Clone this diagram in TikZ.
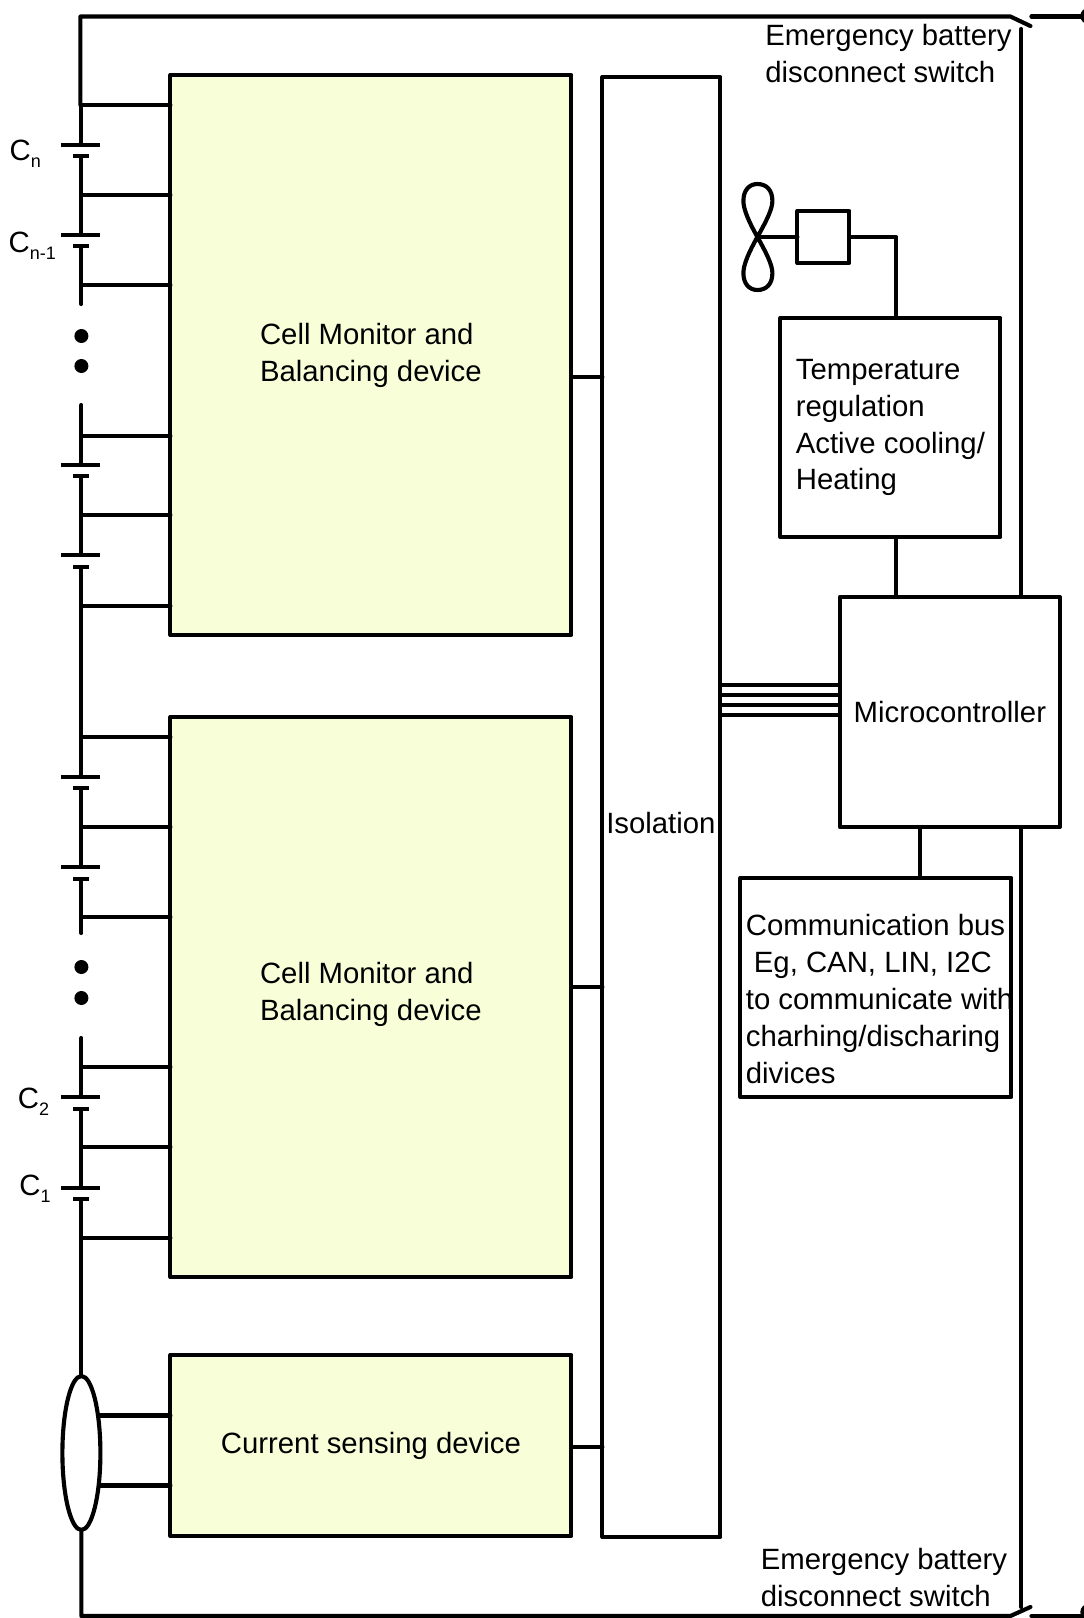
\documentclass[tikz,border=0pt]{standalone}
\usepackage{fontspec}
\setmainfont{Liberation Sans}
\usetikzlibrary{shapes.geometric}
\definecolor{paleyellow}{HTML}{F8FFD8}
\newcommand{\subtxt}[1]{\raisebox{-5.5pt}{\fontsize{13.5}{14}\selectfont #1}}
\tikzset{
  wire/.style={line width=3.1pt,line cap=round,line join=round},
  block/.style={draw,line width=3.1pt,line join=round,inner sep=0pt,outer sep=0pt,align=left,font=\fontsize{22}{27.7}\selectfont},
  devblock/.style={block,fill=paleyellow},
  lbl/.style={inner sep=0pt,outer sep=0pt,anchor=base west,align=left,font=\fontsize{22}{27.7}\selectfont},
  clbl/.style={inner sep=0pt,outer sep=0pt,anchor=base west,font=\fontsize{22}{24}\selectfont},
  dotmark/.style={circle,fill=black,inner sep=0pt,minimum size=10.5pt},
}
\begin{document}
\begin{tikzpicture}[x=0.75pt,y=-0.75pt]
\useasboundingbox (0,0) rectangle (1084,1618);
\begin{scope}[yshift=-0.75pt,xshift=0.3pt]
% blocks
\node[devblock,minimum width=300.75pt,minimum height=420pt] (m1) at (370.5,354) {Cell Monitor and\\Balancing device};
\node[devblock,minimum width=300.75pt,minimum height=420pt] (m2) at (370.5,996) {Cell Monitor and\\Balancing device\\[-19.2pt]\mbox{}};
\node[devblock,minimum width=300.75pt,minimum height=135.75pt] (cs) at (370.5,1444.5) {Current sensing device};
\node[block,minimum width=88.5pt,minimum height=1095pt] (iso) at (661,806) {};
\node[lbl,anchor=center] (isotxt) at (660.5,822) {Isolation};
\node[block,minimum width=165pt,minimum height=172.5pt] (mcu) at (949.5,711) {Microcontroller};
\node[block,minimum width=165pt,minimum height=164.25pt] (temp) at (890,426.5) {Temperature\\regulation\\Active cooling/\\Heating};
\node[block,minimum width=203.25pt,minimum height=164.25pt] (comm) at (875.5,986.5) {};
\node[lbl] (commtxt) at (745.5,1082) {Communication bus\\\hspace*{6pt}Eg, CAN, LIN, I2C\\to communicate with\\charhing/discharing\\divices};
\node[block,minimum width=39pt,minimum height=39pt] (drv) at (823,236) {};
\node[draw,line width=3.1pt,ellipse,inner sep=0pt,outer sep=0pt,minimum width=28.5pt,minimum height=115.5pt] (shunt) at (81,1452) {};

% coordinates
\coordinate (tl) at (80,15.5);
\coordinate (sw1a) at (1010,15.5);
\coordinate (sw1b) at (1030,25);
\coordinate (sw1c) at (1031,15.5);
\coordinate (sw1d) at (1082,15.5);
\coordinate (rtop) at (1021,28);
\coordinate (rbot) at (1021,1606);
\coordinate (bl) at (81,1615);
\coordinate (sw2a) at (1010,1615);
\coordinate (sw2b) at (1030,1606);
\coordinate (sw2c) at (1031,1615);
\coordinate (sw2d) at (1082,1615);
\coordinate (fanc) at (757,236);

% top and bottom rails, switches, main sense line
\draw[wire] (80,104) -- (tl) -- (sw1a) -- (sw1b);
\draw[wire] (sw1c) -- (sw1d);
\draw[wire] (1088,15) circle[radius=6];
\draw[wire] (shunt.south) -- (bl) -- (sw2a) -- (sw2b);
\draw[wire] (sw2c) -- (sw2d);
\draw[wire] (1088,1611) circle[radius=6];
\draw[wire] (rtop) -- (rtop |- mcu.north);
\draw[wire] (rbot |- mcu.south) -- (rbot);

% cell stacks: vertical wire segments
\foreach \ya/\yb in {104/144,155/234,245/303,404/464,475/554,566/776,787/866,878/932,1037/1096,1108/1187}
  \draw[wire] (81,\ya) -- (81,\yb);
\coordinate (st) at (81,1198);
\draw[wire] (st) -- (shunt.north);

% plates
\foreach \yl/\ys in {144/155,234/245,464/475,554/566,776/787,866/878,1096/1108,1187/1198}{
  \draw[wire,line cap=butt] (61,\yl) -- (100,\yl);
  \draw[wire,line cap=butt] (73,\ys) -- (89,\ys);
}
% taps
\foreach \y in {104,194,284,435,514,605}{
  \coordinate (t) at (81,\y);
  \draw[wire] (t) -- (t -| m1.west);
}
\foreach \y in {736,826,916,1066,1146,1237}{
  \coordinate (t) at (81,\y);
  \draw[wire] (t) -- (t -| m2.west);
}
\coordinate (s1) at (99,1414.5);
\coordinate (s2) at (99,1484.5);
\draw[wire] (s1) -- (s1 -| cs.west);
\draw[wire] (s2) -- (s2 -| cs.west);

% dots
\node[dotmark] (d1) at (81,335) {};
\node[dotmark] (d2) at (81,365) {};
\node[dotmark] (d3) at (81,966) {};
\node[dotmark] (d4) at (81,997) {};

% to isolation
\coordinate (i1) at (571,376);
\coordinate (i2) at (571,986);
\coordinate (i3) at (571,1446);
\draw[wire] (i1) -- (i1 -| iso.west);
\draw[wire] (i2) -- (i2 -| iso.west);
\draw[wire] (i3) -- (i3 -| iso.west);

% isolation to MCU
\foreach \y in {684,694,704,714}{
  \coordinate (b) at (720,\y);
  \draw[wire,line width=2.8pt] (b) -- (b -| mcu.west);
}
% control connections
\coordinate (c1) at (896,236);
\draw[wire] (drv.east) -- (c1) -- (c1 |- temp.north);
\draw[wire] (c1 |- temp.south) -- (c1 |- mcu.north);
\coordinate (c2) at (920,826);
\draw[wire] (c2) -- (c2 |- comm.north);
% fan
\draw[wire] (fanc) -- (drv.west);
\draw[wire] (fanc) .. controls (748,220) and (743,208) .. (743,200)
  .. controls (743,189) and (749,183) .. (757,183)
  .. controls (766,183) and (772,189) .. (772,200)
  .. controls (772,208) and (766,220) .. (757,236)
  .. controls (748,252) and (743,264) .. (743,272)
  .. controls (743,283) and (749,289) .. (757,289)
  .. controls (766,289) and (772,283) .. (772,272)
  .. controls (772,264) and (766,252) .. (757,236);

% labels
\node[lbl] (sw1t) at (765,81) {Emergency battery\\disconnect switch};
\node[lbl] (sw2t) at (760.5,1605) {Emergency battery\\disconnect switch};
\node[clbl] (cn) at (9.3,159.5) {C\subtxt{n}};
\node[clbl] (cn1) at (8.3,251.5) {C\subtxt{n-1}};
\node[clbl] (c2l) at (17.5,1107) {C\subtxt{2}};
\node[clbl] (c1l) at (19,1194) {C\subtxt{1}};
\end{scope}
\end{tikzpicture}
\end{document}
